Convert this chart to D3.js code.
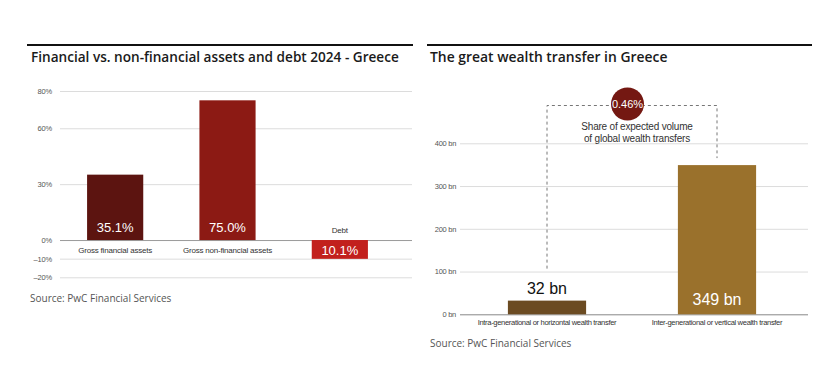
<!DOCTYPE html>
<html>
<head>
<meta charset="utf-8">
<script src="https://cdn.jsdelivr.net/npm/d3@7"></script>
<style>
  body { margin: 0; background: #fff; }
  svg text { font-family: "Liberation Sans", Arial, sans-serif; }
  .title { font-family: "Open Sans", sans-serif !important; font-weight: 600; }
  .source { font-family: "Open Sans", sans-serif !important; }
</style>
</head>
<body>
<div id="chartCtn"></div>
<script>
// left chart data
var assetCategories = [ "Gross financial assets", "Gross non-financial assets", "Debt" ];
var assetValues = [ 35.1, 75.0, -10.1 ];
var assetLabels = [ "35.1%", "75.0%", "10.1%" ];
var assetTicks = [ 80, 60, 30, 0, -10, -20 ];

// right chart data
var transferCategories = [ "Intra-generational or horizontal wealth transfer", "Inter-generational or vertical wealth transfer" ];
var transferValues = [ 32, 349 ];
var transferLabels = [ "32 bn", "349 bn" ];
var transferTicks = [ 0, 100, 200, 300, 400 ];
var transferShare = "0.46%";
var shareText = [ "Share of expected volume", "of global wealth transfers" ];

var svg = d3.select( "#chartCtn" )
	.append( "svg" )
	.attr( "width", 827 )
	.attr( "height", 389 );

// ---------- left chart ----------
var left = svg.append( "g" );

left.append( "line" )
	.attr( "x1", 27 ).attr( "x2", 413 )
	.attr( "y1", 45 ).attr( "y2", 45 )
	.attr( "stroke", "#111" ).attr( "stroke-width", 2 );

left.append( "text" )
	.attr( "class", "title" )
	.attr( "x", 31 ).attr( "y", 62 )
	.style( "font-size", "13.6px" )
	.attr( "fill", "#1a1a1a" )
	.text( "Financial vs. non-financial assets and debt 2024 - Greece" );

var yLeft = d3.scaleLinear()
	.domain( [ -20, 80 ] )
	.range( [ 277.3, 91 ] );

var xLeft = d3.scaleBand()
	.domain( assetCategories )
	.range( [ 59, 396 ] )
	.paddingInner( 0.5 )
	.paddingOuter( 0.25 );

left.append( "g" )
	.attr( "transform", "translate(60,0)" )
	.call( d3.axisLeft( yLeft ).tickValues( assetTicks ).tickSize( -352 ).tickFormat( d => d + "%" ) )
	.call( g => g.select( ".domain" ).remove() )
	.call( g => g.selectAll( ".tick line" ).attr( "stroke", d => d === 0 ? "#9a9a9a" : "#dcdcdc" ) )
	.call( g => g.selectAll( ".tick text" )
		.attr( "x", -8 )
		.attr( "fill", "#555" )
		.style( "font-size", "7.5px" )
		.style( "letter-spacing", "-0.2px" )
		.text( d => d < 0 ? "\u2013" + Math.abs( d ) + "%" : d + "%" ) );

var assetColors = [ "#5c1410", "#8c1a14", "#c2201d" ];

left.selectAll( "rect.bar" )
	.data( assetValues )
	.enter()
	.append( "rect" )
	.attr( "class", "bar" )
	.attr( "x", ( d, i ) => xLeft( assetCategories[ i ] ) )
	.attr( "y", d => yLeft( Math.max( d, 0 ) ) )
	.attr( "height", d => Math.abs( yLeft( d ) - yLeft( 0 ) ) )
	.attr( "width", xLeft.bandwidth() )
	.attr( "fill", ( d, i ) => assetColors[ i ] );

left.selectAll( "text.val" )
	.data( assetValues )
	.enter()
	.append( "text" )
	.attr( "class", "val" )
	.attr( "x", ( d, i ) => xLeft( assetCategories[ i ] ) + xLeft.bandwidth() / 2 )
	.attr( "y", d => d > 0 ? yLeft( 0 ) - 8 : yLeft( d ) - 4 )
	.attr( "text-anchor", "middle" )
	.attr( "fill", "#fff" )
	.style( "font-size", "13px" )
	.text( ( d, i ) => assetLabels[ i ] );

left.selectAll( "text.cat" )
	.data( assetValues )
	.enter()
	.append( "text" )
	.attr( "class", "cat" )
	.attr( "x", ( d, i ) => xLeft( assetCategories[ i ] ) + xLeft.bandwidth() / 2 )
	.attr( "y", d => d > 0 ? yLeft( 0 ) + 13 : yLeft( 0 ) - 7 )
	.attr( "text-anchor", "middle" )
	.attr( "fill", "#333" )
	.style( "font-size", "8px" )
	.style( "letter-spacing", "-0.2px" )
	.text( ( d, i ) => assetCategories[ i ] );

left.append( "text" )
	.attr( "class", "source" )
	.attr( "x", 30 ).attr( "y", 302 )
	.attr( "fill", "#555" )
	.style( "font-size", "10px" )
	.text( "Source: PwC Financial Services" );

// ---------- right chart ----------
var right = svg.append( "g" );

right.append( "line" )
	.attr( "x1", 427 ).attr( "x2", 812 )
	.attr( "y1", 45 ).attr( "y2", 45 )
	.attr( "stroke", "#111" ).attr( "stroke-width", 2 );

right.append( "text" )
	.attr( "class", "title" )
	.attr( "x", 430 ).attr( "y", 62 )
	.style( "font-size", "13.9px" )
	.attr( "fill", "#1a1a1a" )
	.text( "The great wealth transfer in Greece" );

var yRight = d3.scaleLinear()
	.domain( [ 0, 400 ] )
	.range( [ 314.3, 143.3 ] );

var xRight = d3.scaleBand()
	.domain( transferCategories )
	.range( [ 462, 802 ] )
	.paddingInner( 0.54 )
	.paddingOuter( 0.27 );

right.append( "g" )
	.attr( "transform", "translate(460,0)" )
	.call( d3.axisLeft( yRight ).tickValues( transferTicks ).tickSize( -348 ).tickFormat( d => d + " bn" ) )
	.call( g => g.select( ".domain" ).remove() )
	.call( g => g.selectAll( ".tick line" ).attr( "stroke", d => d === 0 ? "#888" : "#dcdcdc" ) )
	.call( g => g.selectAll( ".tick text" )
		.attr( "x", -4 )
		.attr( "fill", "#555" )
		.style( "font-size", "7.5px" )
		.style( "letter-spacing", "-0.3px" ) );

var transferColors = [ "#6b4b22", "#9a712c" ];

right.selectAll( "rect.bar" )
	.data( transferValues )
	.enter()
	.append( "rect" )
	.attr( "class", "bar" )
	.attr( "x", ( d, i ) => xRight( transferCategories[ i ] ) )
	.attr( "y", d => yRight( d ) )
	.attr( "height", d => yRight( 0 ) - yRight( d ) )
	.attr( "width", xRight.bandwidth() )
	.attr( "fill", ( d, i ) => transferColors[ i ] );

right.selectAll( "text.val" )
	.data( transferValues )
	.enter()
	.append( "text" )
	.attr( "class", "val" )
	.attr( "x", ( d, i ) => xRight( transferCategories[ i ] ) + xRight.bandwidth() / 2 )
	.attr( "y", d => d < 100 ? yRight( d ) - 7 : yRight( 0 ) - 9 )
	.attr( "text-anchor", "middle" )
	.attr( "fill", d => d < 100 ? "#111" : "#fff" )
	.style( "font-size", "16px" )
	.text( ( d, i ) => transferLabels[ i ] );

right.selectAll( "text.cat" )
	.data( transferCategories )
	.enter()
	.append( "text" )
	.attr( "class", "cat" )
	.attr( "x", d => xRight( d ) + xRight.bandwidth() / 2 )
	.attr( "y", yRight( 0 ) + 11 )
	.attr( "text-anchor", "middle" )
	.attr( "fill", "#333" )
	.style( "font-size", "7.6px" )
	.style( "letter-spacing", "-0.35px" )
	.text( d => d );

// dashed bracket linking the two bars
var cx0 = xRight( transferCategories[ 0 ] ) + xRight.bandwidth() / 2;
var cx1 = xRight( transferCategories[ 1 ] ) + xRight.bandwidth() / 2;
var topY = 105.5;

right.append( "path" )
	.attr( "d", `M${ cx0 },${ yRight( transferValues[ 0 ] ) - 32 } V${ topY } H${ cx1 } V${ yRight( transferValues[ 1 ] ) - 7 }` )
	.attr( "fill", "none" )
	.attr( "stroke", "#777" )
	.attr( "stroke-width", 1 )
	.attr( "stroke-dasharray", "3,3" );

var circleX = 627.5;
right.append( "circle" )
	.attr( "cx", circleX ).attr( "cy", 104 )
	.attr( "r", 16.5 )
	.attr( "fill", "#741812" );

right.append( "text" )
	.attr( "x", circleX ).attr( "y", 108 )
	.attr( "text-anchor", "middle" )
	.attr( "fill", "#fff" )
	.style( "font-size", "11px" )
	.text( transferShare );

right.selectAll( "text.share" )
	.data( shareText )
	.enter()
	.append( "text" )
	.attr( "class", "share" )
	.attr( "x", 637 )
	.attr( "y", ( d, i ) => 130 + i * 12 )
	.attr( "text-anchor", "middle" )
	.attr( "fill", "#333" )
	.style( "font-size", "10px" )
	.style( "letter-spacing", "-0.2px" )
	.text( d => d );

right.append( "text" )
	.attr( "class", "source" )
	.attr( "x", 430 ).attr( "y", 347 )
	.attr( "fill", "#555" )
	.style( "font-size", "10px" )
	.text( "Source: PwC Financial Services" );
</script>
</body>
</html>
